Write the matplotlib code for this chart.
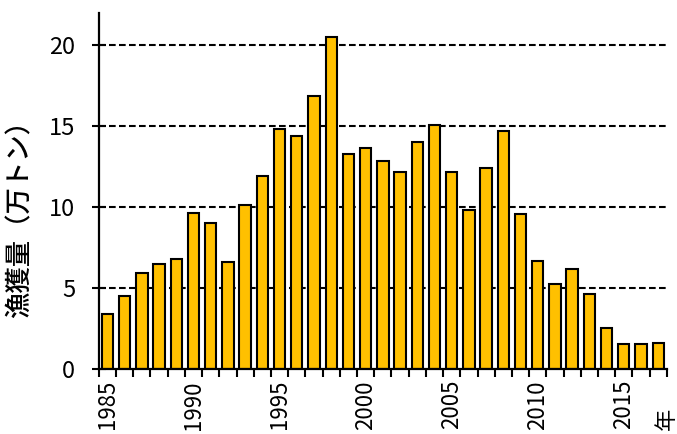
import matplotlib.pyplot as plt
import numpy as np

plt.rcParams['font.family'] = ['Noto Sans CJK JP', 'DejaVu Sans']

# 漁獲量 (万トン), 1985-2017
years = list(range(1985, 2018))
catch = [3.4, 4.5, 5.9, 6.5, 6.8, 9.65, 9.05, 6.6, 10.15, 11.95,
         14.85, 14.4, 16.9, 20.5, 13.3, 13.65, 12.85, 12.15, 14.0, 15.05,
         12.15, 9.8, 12.45, 14.7, 9.55, 6.65, 5.25, 6.15, 4.6, 2.5,
         1.55, 1.55, 1.6]
label_years = [1985, 1990, 1995, 2000, 2005, 2010, 2015]
y_ticks = [0, 5, 10, 15, 20]


def main():
    fig = plt.figure(figsize=(6.77, 4.34), dpi=100)
    ax = fig.add_axes([0.146, 0.150, 0.839, 0.820])

    x = np.arange(len(years))
    ax.bar(x, catch, width=0.66, color='#FFC000', edgecolor='black',
           linewidth=1.5, zorder=3)

    ax.set_xlim(-0.5, len(years) - 0.5)
    ax.set_ylim(0, 22)

    # grid lines
    for v in y_ticks[1:]:
        ax.axhline(v, color='black', linestyle=(0, (3.2, 1.6)),
                   linewidth=1.5, zorder=1)

    # x axis: boundary ticks, labels every 5 years
    ax.set_xticks([years.index(y) for y in label_years])
    ax.set_xticklabels([str(y) for y in label_years], rotation=90,
                       fontsize=16)
    ax.tick_params(axis='x', which='major', length=0, pad=8)
    ax.set_xticks(np.arange(-0.5, len(years), 1.0), minor=True)
    ax.tick_params(axis='x', which='minor', length=6, width=1.5,
                   direction='out')

    ax.set_yticks(y_ticks)
    ax.set_yticklabels([str(v) for v in y_ticks], fontsize=17)
    ax.tick_params(axis='y', length=10, width=1.5, direction='inout', pad=12)

    for s in ['top', 'right']:
        ax.spines[s].set_visible(False)
    for s in ['left', 'bottom']:
        ax.spines[s].set_linewidth(1.6)
        ax.spines[s].set_zorder(4)

    ax.set_ylabel('漁獲量（万トン）', fontsize=19, fontweight='medium')
    ax.yaxis.set_label_coords(-0.115, 0.44)

    fig.text(0.985, 0.035, '年', rotation=90, fontsize=16,
             ha='center', va='center')

    plt.savefig('out.png', dpi=100)
    plt.close()


if __name__ == "__main__":
    main()
